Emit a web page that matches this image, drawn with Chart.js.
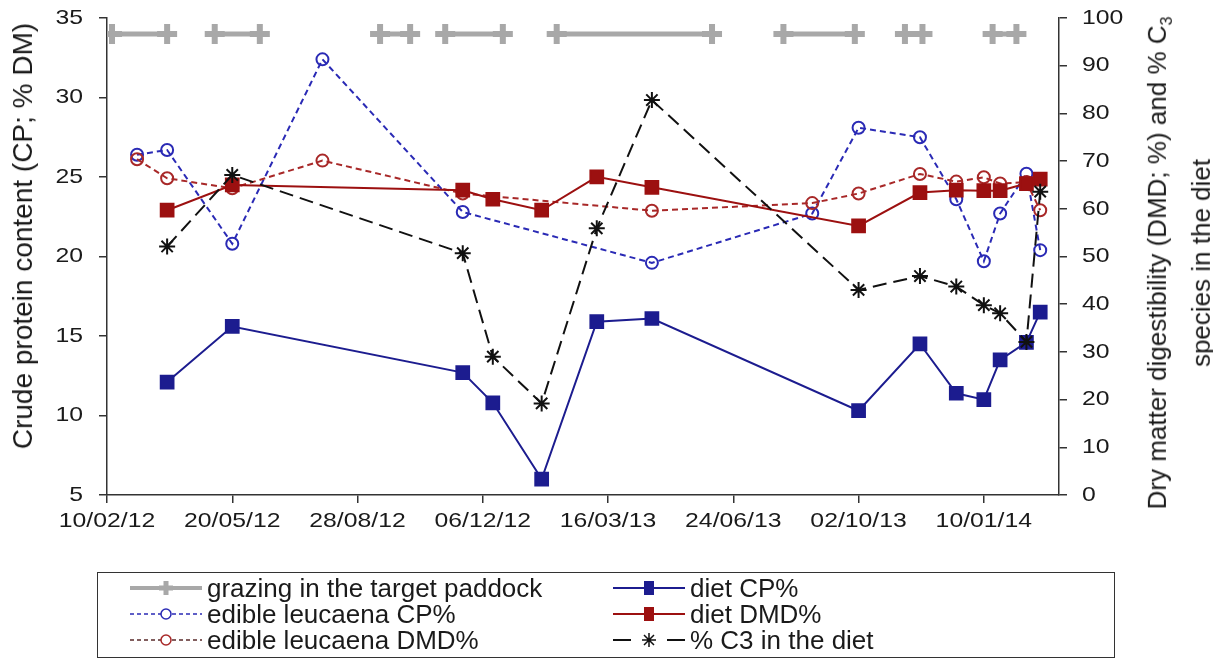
<!DOCTYPE html>
<html>
<head>
<meta charset="utf-8">
<script src="https://cdn.jsdelivr.net/npm/chart.js@4.4.0/dist/chart.umd.min.js"></script>
<style>
  body { margin: 0; background: #fff; }
  #wrap { position: relative; width: 1213px; height: 659px; font-family: 'Liberation Sans', Arial, sans-serif; color: #1a1a1a; }
  #chart { position: absolute; left: 0; top: 0; }
  .ytitle { position: absolute; white-space: nowrap; transform: translate(-50%, -50%) rotate(-90deg); }
  #leftTitle { left: 23px; top: 236px; font-size: 28px; }
  #rightTitle { left: 1179px; top: 263px; font-size: 26px; line-height: 34px; text-align: center; }
  #rightTitle sub { font-size: 16px; }
  #legend { position: absolute; left: 97px; top: 572px; width: 1016px; height: 84px; border: 1.5px solid #333; }
  .item { position: absolute; display: flex; align-items: center; height: 26px; font-size: 26px; white-space: nowrap; }
  .item svg { margin-right: 5px; }
</style>
</head>
<body>
<div id="wrap">
  <canvas id="chart" width="1213" height="659"></canvas>
  <div class="ytitle" id="leftTitle">Crude protein content (CP; % DM)</div>
  <div class="ytitle" id="rightTitle">Dry matter digestibility (DMD; %) and % C<sub>3</sub><br>species in the diet</div>
  <div id="legend">
    <div class="item" style="left:32px; top:2px">
      <svg width="72" height="20"><line x1="0" y1="10" x2="72" y2="10" stroke="#a8a8a8" stroke-width="4"/><path d="M36 3v14M29 10h14" stroke="#a8a8a8" stroke-width="5"/></svg>
      grazing in the target paddock</div>
    <div class="item" style="left:32px; top:28px">
      <svg width="72" height="20"><line x1="0" y1="10" x2="72" y2="10" stroke="#2a2ab5" stroke-width="1.5" stroke-dasharray="4 3"/><circle cx="36" cy="10" r="5" fill="#fff" stroke="#2a2ab5" stroke-width="1.5"/></svg>
      edible leucaena CP%</div>
    <div class="item" style="left:32px; top:54px">
      <svg width="72" height="20"><line x1="0" y1="10" x2="72" y2="10" stroke="#5a2a2a" stroke-width="1.5" stroke-dasharray="4 3"/><circle cx="36" cy="10" r="5" fill="#fff" stroke="#a82828" stroke-width="1.5"/></svg>
      edible leucaena DMD%</div>
    <div class="item" style="left:515px; top:2px">
      <svg width="72" height="20"><line x1="0" y1="10" x2="72" y2="10" stroke="#1c1c8f" stroke-width="2"/><rect x="31" y="3" width="10" height="14" fill="#1c1c8f"/></svg>
      diet CP%</div>
    <div class="item" style="left:515px; top:28px">
      <svg width="72" height="20"><line x1="0" y1="10" x2="72" y2="10" stroke="#9c1010" stroke-width="2"/><rect x="31" y="3" width="10" height="14" fill="#9c1010"/></svg>
      diet DMD%</div>
    <div class="item" style="left:515px; top:54px">
      <svg width="72" height="20"><path d="M0 10h18M54 10h18" stroke="#111" stroke-width="2"/><path d="M36 3v14M29 10h14M31 5l10 10M41 5l-10 10" stroke="#111" stroke-width="1.5"/></svg>
      % C3 in the diet</div>
  </div>
</div>
<script>
// x axis tick labels (dd/mm/yy), 100 days apart
const xTickLabels = ['10/02/12', '20/05/12', '28/08/12', '06/12/12', '16/03/13', '24/06/13', '02/10/13', '10/01/14'];
const xEndDate = '11/03/14';

// grazing periods in the target paddock (drawn as bars at CP = 34)
const grazingStart = ['14/02/12', '06/05/12', '15/09/12', '06/11/12', '03/02/13', '03/08/13', '08/11/13', '17/01/14'];
const grazingEnd = ['29/03/12', '11/06/12', '09/10/12', '22/12/12', '07/06/13', '29/09/13', '22/11/13', '05/02/14'];
const grazingLevel = 34;

// edible leucaena samples
const leucDates = ['05/03/12', '29/03/12', '20/05/12', '31/07/12', '20/11/12', '20/04/13', '26/08/13',
  '02/10/13', '20/11/13', '19/12/13', '10/01/14', '23/01/14', '13/02/14', '24/02/14'];
const leucCP = [26.4, 26.7, 20.8, 32.4, 22.8, 19.6, 22.7, 28.1, 27.5, 23.6, 19.7, 22.7, 25.2, 20.4];
const leucDMD = [70.4, 66.4, 64.3, 70.1, 63.2, 59.6, 61.2, 63.2, 67.3, 65.7, 66.6, 65.3, 65.6, 59.7];

// diet samples
const dietDates = ['29/03/12', '20/05/12', '20/11/12', '14/12/12', '22/01/13', '07/03/13', '20/04/13',
  '02/10/13', '20/11/13', '19/12/13', '10/01/14', '23/01/14', '13/02/14', '24/02/14'];
const dietCP = [12.1, 15.6, 12.7, 10.8, 6.0, 15.9, 16.1, 10.3, 14.5, 11.4, 11.0, 13.5, 14.6, 16.5];
const dietDMD = [59.7, 65.0, 63.9, 62.0, 59.7, 66.7, 64.5, 56.4, 63.4, 63.9, 63.8, 63.8, 65.3, 66.2];
const dietC3 = [52.1, 67.1, 50.7, 29.0, 19.2, 55.9, 82.8, 43.0, 45.9, 43.7, 39.8, 38.1, 32.1, 63.6];

// days since the first tick date
const dayOf = (s) => {
  const [d, m, y] = s.split('/').map(Number);
  const [d0, m0, y0] = xTickLabels[0].split('/').map(Number);
  return (Date.UTC(2000 + y, m - 1, d) - Date.UTC(2000 + y0, m0 - 1, d0)) / 86400000;
};
const points = (dates, values) => dates.map((d, i) => ({ x: dayOf(d), y: values[i] }));

const grazingPoints = [];
grazingStart.forEach((s, i) => {
  grazingPoints.push({ x: dayOf(s), y: grazingLevel });
  grazingPoints.push({ x: dayOf(grazingEnd[i]), y: grazingLevel });
  grazingPoints.push({ x: dayOf(grazingEnd[i]) + 1, y: null }); // break the line
});

// the reference draws tick text a bit wide, so stretch unrotated text horizontally
const stretchText = (ctx, sx) => {
  const fill = ctx.fillText.bind(ctx);
  ctx.fillText = (text, x, y, maxWidth) => {
    const m = ctx.getTransform();
    if (m.b !== 0 || m.c !== 0) return maxWidth === undefined ? fill(text, x, y) : fill(text, x, y, maxWidth);
    ctx.save();
    ctx.translate(x, y);
    ctx.scale(sx, 1);
    fill(text, 0, 0);
    ctx.restore();
  };
};

const axisColor = '#333';
const tickFont = { family: "'Liberation Sans', Arial, sans-serif", size: 21 };
const axisGrid = { drawOnChartArea: false, tickLength: 8, color: axisColor, lineWidth: 1.5 };
const axisBorder = { color: axisColor, width: 1.5 };

// fixed axis sizes so the plot area sits where it does in the reference
const fixWidth = (w) => (axis) => {
  axis.width = w;
  axis.paddingTop = 0;
  axis.paddingBottom = 0;
};

const canvas = document.getElementById('chart');
stretchText(canvas.getContext('2d'), 1.18);

new Chart(canvas, {
  type: 'line',
  data: {
    datasets: [
      {
        label: '% C3 in the diet', data: points(dietDates, dietC3), yAxisID: 'y1',
        borderColor: '#111', borderWidth: 2, borderDash: [14, 7],
        pointStyle: 'star', pointRadius: 8, pointBorderWidth: 2, pointBorderColor: '#111'
      },
      {
        label: 'diet DMD%', data: points(dietDates, dietDMD), yAxisID: 'y1',
        borderColor: '#9c1010', borderWidth: 2,
        pointStyle: 'rect', pointRadius: 9, pointBackgroundColor: '#9c1010', pointBorderColor: '#9c1010'
      },
      {
        label: 'diet CP%', data: points(dietDates, dietCP), yAxisID: 'y',
        borderColor: '#1c1c8f', borderWidth: 2,
        pointStyle: 'rect', pointRadius: 9, pointBackgroundColor: '#1c1c8f', pointBorderColor: '#1c1c8f'
      },
      {
        label: 'edible leucaena DMD%', data: points(leucDates, leucDMD), yAxisID: 'y1',
        borderColor: '#a82828', borderWidth: 2, borderDash: [6, 4],
        pointStyle: 'circle', pointRadius: 6, pointBorderWidth: 2, pointBackgroundColor: 'rgba(255,255,255,0)'
      },
      {
        label: 'edible leucaena CP%', data: points(leucDates, leucCP), yAxisID: 'y',
        borderColor: '#2a2ab5', borderWidth: 2, borderDash: [6, 4],
        pointStyle: 'circle', pointRadius: 6, pointBorderWidth: 2, pointBackgroundColor: 'rgba(255,255,255,0)'
      },
      {
        label: 'grazing in the target paddock', data: grazingPoints, yAxisID: 'y', spanGaps: false,
        borderColor: '#a8a8a8', borderWidth: 5,
        pointStyle: 'cross', pointRadius: 10, pointBorderWidth: 6, pointBorderColor: '#a8a8a8'
      }
    ]
  },
  options: {
    responsive: false,
    animation: false,
    layout: { autoPadding: false, padding: { top: 18, bottom: 119, left: 0, right: 0 } },
    plugins: { legend: { display: false }, tooltip: { enabled: false } },
    scales: {
      x: {
        type: 'linear', min: 0, max: dayOf(xEndDate),
        afterBuildTicks: (axis) => { axis.ticks = xTickLabels.map(l => ({ value: dayOf(l) })); },
        afterFit: (axis) => { axis.height = 45; },
        ticks: { callback: (v, i) => xTickLabels[i], font: tickFont, color: '#1a1a1a', padding: 6, maxRotation: 0, autoSkip: false },
        grid: axisGrid, border: axisBorder
      },
      y: {
        position: 'left', min: 5, max: 35,
        afterFit: fixWidth(107),
        ticks: { stepSize: 5, font: tickFont, color: '#1a1a1a', padding: 16 },
        grid: axisGrid, border: axisBorder
      },
      y1: {
        position: 'right', min: 0, max: 100,
        afterFit: fixWidth(154),
        ticks: { stepSize: 10, font: tickFont, color: '#1a1a1a', padding: 15 },
        grid: axisGrid, border: axisBorder
      }
    }
  }
});
</script>
</body>
</html>
